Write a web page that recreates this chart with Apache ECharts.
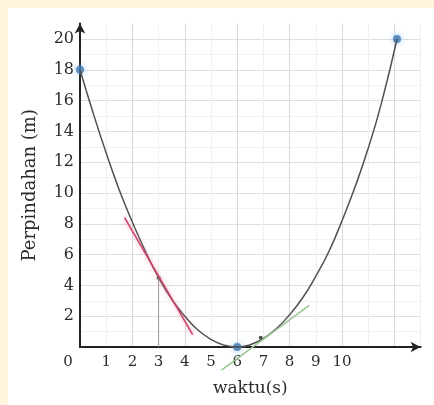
<!DOCTYPE html>
<html>
<head>
<meta charset="utf-8">
<script src="https://cdn.jsdelivr.net/npm/echarts@6/dist/echarts.min.js"></script>
<style>
  html, body { margin: 0; padding: 0; background: #fef5dc; }
  #chart { position: absolute; left: 8px; top: 8px; width: 426px; height: 397px; background: #ffffff; }
</style>
</head>
<body>
<div id="chart"></div>
<script>
// waktu (s) dan perpindahan (m)
var waktu = [0, 0.5, 1, 1.5, 2, 2.5, 3, 3.5, 4, 4.5, 5, 5.5, 6, 6.5, 7, 7.5, 8, 8.5, 9, 9.5, 10, 10.5, 11, 11.5, 12.1];
var perpindahan = [18, 15.2, 12.6, 10.2, 8.1, 6.2, 4.5, 3.1, 2.0, 1.1, 0.5, 0.12, 0, 0.15, 0.55, 1.2, 2.1, 3.2, 4.6, 6.2, 8.2, 10.4, 12.9, 15.8, 20];
var titikBiru = [[0, 18], [6, 0], [12.1, 20]];
var titikHitam = [[3, 4.5], [6.9, 0.6]];
var garisMerah = [[1.7, 8.4], [4.3, 0.8]];
var garisHijau = [[5.4, -1.5], [8.75, 2.7]];
var garisBantu = [[3, 0], [3, 4.5]];

var kurva = waktu.map(function (t, i) { return [t, perpindahan[i]]; });

var font = 'DejaVu Serif';
var textColor = '#2b2b2b';

var myChart = echarts.init(document.getElementById('chart'));

var ySplitColors = [];
for (var i = 0; i < 11; i++) ySplitColors.push('#dedede');
ySplitColors.push('rgba(0,0,0,0)');

myChart.setOption({
    animation: false,
    grid: { left: 72, top: 15.6, right: 13.4, bottom: 58, containLabel: false, outerBoundsMode: 'none' },
    xAxis: {
        type: 'value', min: 0, max: 13, interval: 1,
        name: 'waktu(s)', nameLocation: 'middle', nameGap: 33,
        nameTextStyle: { fontFamily: font, fontSize: 17, color: textColor },
        axisLine: { show: true, onZero: false, symbol: ['none', 'arrow'], symbolSize: [8, 10],
            lineStyle: { color: '#222', width: 2 } },
        axisTick: { show: false },
        axisLabel: {
            margin: 8, fontFamily: font, fontSize: 15, color: textColor,
            formatter: function (v) { return v > 10 ? '' : (v === 0 ? '{z|0}' : String(v)); },
            rich: { z: { fontFamily: font, fontSize: 15, color: textColor, padding: [0, 24, 0, 0] } }
        },
        splitLine: { show: true, lineStyle: { color: ['#d8d8d8', '#f0f0f0'], width: 1 } }
    },
    yAxis: {
        type: 'value', min: 0, max: 21, interval: 2,
        name: 'Perpindahan (m)', nameLocation: 'middle', nameGap: 41,
        nameTextStyle: { fontFamily: font, fontSize: 18, color: textColor },
        axisLine: { show: true, onZero: false, symbol: ['none', 'arrow'], symbolSize: [8, 10],
            lineStyle: { color: '#222', width: 2 } },
        axisTick: { show: false },
        axisLabel: {
            margin: 6, fontFamily: font, fontSize: 16, color: textColor,
            formatter: function (v) { return (v === 0 || v > 20) ? '' : String(v); }
        },
        splitLine: { show: true, lineStyle: { color: ySplitColors, width: 1 } },
        minorTick: { show: false, splitNumber: 2 },
        minorSplitLine: { show: true, lineStyle: { color: '#f2f2f2', width: 1 } }
    },
    series: [
        {
            type: 'line', data: garisBantu, symbol: 'none', silent: true,
            lineStyle: { color: '#9a9a9a', width: 1 }
        },
        {
            type: 'line', data: kurva, smooth: true, symbol: 'none', silent: true,
            lineStyle: { color: '#505050', width: 1.5 }
        },
        {
            type: 'line', data: garisMerah, symbol: 'none', silent: true, clip: false,
            lineStyle: { color: '#c9476a', width: 1.6, shadowColor: 'rgba(240,120,150,0.7)', shadowBlur: 4 }
        },
        {
            type: 'line', data: garisHijau, symbol: 'none', silent: true, clip: false,
            lineStyle: { color: '#9cc596', width: 1.6 }
        },
        {
            type: 'scatter', data: titikHitam, symbolSize: 4, silent: true,
            itemStyle: { color: '#222' }
        },
        {
            type: 'scatter', data: titikBiru, symbolSize: 8, silent: true, clip: false,
            itemStyle: { color: '#3d78b3', shadowColor: 'rgba(120,180,235,0.9)', shadowBlur: 6 }
        }
    ]
});
</script>
</body>
</html>
